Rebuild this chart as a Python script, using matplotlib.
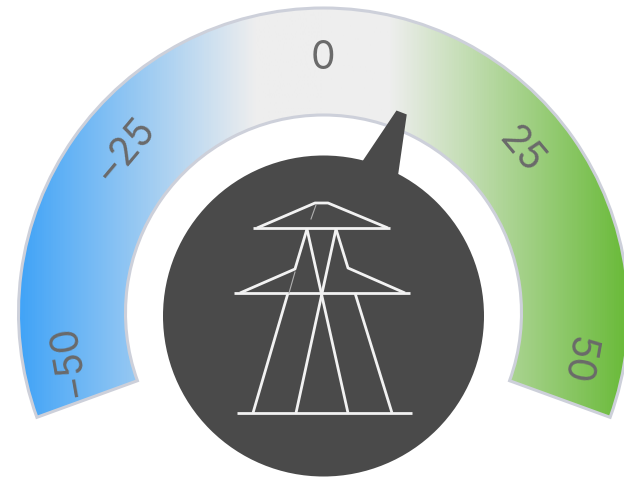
import numpy as np
import matplotlib
matplotlib.use("Agg")
import matplotlib.pyplot as plt
from matplotlib.colors import LinearSegmentedColormap
from matplotlib.patches import Wedge, Circle, Polygon

# gauge values
tick_values = [-50, -25, 0, 25, 50]
tick_labels = ["\u221250", "\u221225", "0", "25", "50"]
needle_value = 10.5

# gradient stops (x in pixels, colour)
grad_x = [20, 255, 390, 624]
grad_col = ["#42a4f7", "#eeeeee", "#eeeeee", "#6cbb3c"]

# pylon icon, pixel polylines
pylon = [
    [(253, 228), (390, 228)],
    [(257, 228), (315, 203), (328, 203), (388, 228)],
    [(234, 293), (410, 293)],
    [(240, 293), (295, 269), (307, 229)],
    [(336, 229), (348, 268), (405, 293)],
    [(307, 229), (348, 413)],
    [(336, 229), (296, 413)],
    [(288, 293), (253, 413)],
    [(355, 293), (392, 413)],
    [(237, 413), (412, 413)],
]
pylon_thin = [
    [(316, 205), (311, 219)],
    [(295, 272), (289, 293)],
]

cx, cy = 323.5, 316
band_cy = 313
r_out, r_in = 305, 198
deg_per_unit = 2.0


def polar(r, a):
    # a is in degrees clockwise from straight up
    t = np.radians(a)
    return 322.5 + r * np.sin(t), cy - r * np.cos(t)


fig = plt.figure(figsize=(6.24, 4.79), dpi=100)
ax = fig.add_axes([0, 0, 1, 1])
ax.set_xlim(0, 624)
ax.set_ylim(479, 0)
ax.axis("off")

# y axis is flipped so wedge angles run clockwise from +x
stops = [(x - grad_x[0]) / (grad_x[-1] - grad_x[0]) for x in grad_x]
cmap = LinearSegmentedColormap.from_list("gauge", list(zip(stops, grad_col)))
img = ax.imshow(np.linspace(0, 1, 600).reshape(1, -1), cmap=cmap, aspect="auto",
                extent=[grad_x[0], grad_x[-1], 479, 0], zorder=1)
band = Wedge((cx, band_cy), r_out, 160, 20, width=r_out - r_in, transform=ax.transData,
             facecolor="none", edgecolor="#cdd0da", lw=2.2, zorder=2)
ax.add_patch(band)
img.set_clip_path(band)

ax.add_patch(Circle((cx, cy), 160.5, facecolor="#4a4a4a", edgecolor="none", zorder=3))

# needle
a = needle_value * deg_per_unit
nx, ny = np.sin(np.radians(a)), -np.cos(np.radians(a))
px, py = -ny, nx
needle = []
for r, w in [(150, -21), (218, -5.5), (218, 5.5), (150, 21)]:
    needle.append((cx + r * nx + w * px, cy + r * ny + w * py))
ax.add_patch(Polygon(needle, closed=True, facecolor="#4a4a4a", edgecolor="none", zorder=3))

for line in pylon:
    xs, ys = zip(*line)
    ax.plot(xs, ys, color="#f2f2f2", lw=2.0, solid_capstyle="butt", zorder=4)
for line in pylon_thin:
    xs, ys = zip(*line)
    ax.plot(xs, ys, color="#b0b0b0", lw=0.8, zorder=4)

for v, s in zip(tick_values, tick_labels):
    ang = v * deg_per_unit
    x, y = polar(258, ang)
    ax.text(x, y, s, rotation=-ang, rotation_mode="anchor", ha="center", va="center",
            fontsize=28, family="Inter", color="#6a6a6a", zorder=5)

fig.savefig("out.png", dpi=100)
